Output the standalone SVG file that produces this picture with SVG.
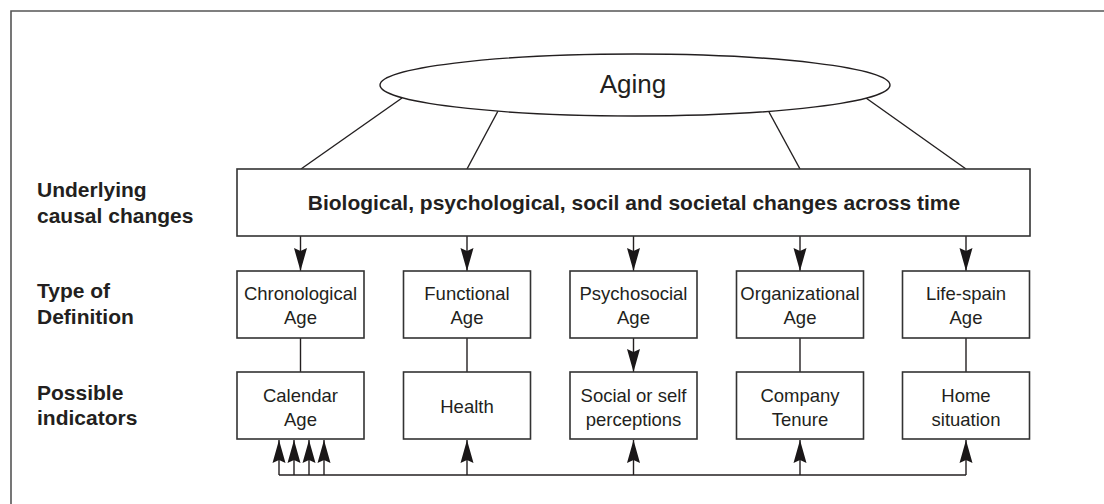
<svg xmlns="http://www.w3.org/2000/svg" width="1104" height="504" viewBox="0 0 1104 504">
<defs>
<marker id="arr" viewBox="-24 -8 25 16" refX="0" refY="0" markerWidth="25" markerHeight="16" markerUnits="userSpaceOnUse" orient="auto">
<path d="M0,0 L-23,-6.5 L-20,0 L-23,6.5 Z" fill="#1a1718"/>
</marker>
<style>
.box{fill:#fff;stroke:#333;stroke-width:1.6}
.ln{fill:none;stroke:#231f20;stroke-width:1.4}
.t{font-family:"Liberation Sans",Arial,sans-serif;font-size:18.5px;fill:#231f20;text-anchor:middle}
.b{font-family:"Liberation Sans",Arial,sans-serif;font-size:21px;font-weight:bold;fill:#231f20}
</style>
</defs>
<rect width="1104" height="504" fill="#fff"/>
<path d="M11,504 V11 H1104" fill="none" stroke="#555" stroke-width="1.6"/>

<g id="labels">
<text class="b" x="37" y="197">Underlying</text>
<text class="b" x="37" y="223">causal changes</text>
<text class="b" x="37" y="298">Type of</text>
<text class="b" x="37" y="324">Definition</text>
<text class="b" x="37" y="400">Possible</text>
<text class="b" x="37" y="425">indicators</text>
</g>

<g id="connectors">
<line class="ln" x1="402" y1="98" x2="301" y2="169"/>
<line class="ln" x1="498" y1="111" x2="467" y2="169"/>
<line class="ln" x1="769" y1="112" x2="800" y2="169"/>
<line class="ln" x1="866" y1="98" x2="966" y2="169"/>
<line class="ln" x1="300.5" y1="236" x2="300.5" y2="271" marker-end="url(#arr)"/>
<line class="ln" x1="467" y1="236" x2="467" y2="271" marker-end="url(#arr)"/>
<line class="ln" x1="633.5" y1="236" x2="633.5" y2="271" marker-end="url(#arr)"/>
<line class="ln" x1="800" y1="236" x2="800" y2="271" marker-end="url(#arr)"/>
<line class="ln" x1="966" y1="236" x2="966" y2="271" marker-end="url(#arr)"/>
<line class="ln" x1="300.5" y1="338" x2="300.5" y2="372"/>
<line class="ln" x1="467" y1="338" x2="467" y2="372"/>
<line class="ln" x1="633.5" y1="338" x2="633.5" y2="372" marker-end="url(#arr)"/>
<line class="ln" x1="800" y1="338" x2="800" y2="372"/>
<line class="ln" x1="966" y1="338" x2="966" y2="372"/>
<line class="ln" x1="279" y1="475" x2="966" y2="475"/>
<line class="ln" x1="279" y1="475" x2="279" y2="440" marker-end="url(#arr)"/>
<line class="ln" x1="294" y1="475" x2="294" y2="440" marker-end="url(#arr)"/>
<line class="ln" x1="309" y1="475" x2="309" y2="440" marker-end="url(#arr)"/>
<line class="ln" x1="324" y1="475" x2="324" y2="440" marker-end="url(#arr)"/>
<line class="ln" x1="467" y1="475" x2="467" y2="440" marker-end="url(#arr)"/>
<line class="ln" x1="633.5" y1="475" x2="633.5" y2="440" marker-end="url(#arr)"/>
<line class="ln" x1="800" y1="475" x2="800" y2="440" marker-end="url(#arr)"/>
<line class="ln" x1="966" y1="475" x2="966" y2="440" marker-end="url(#arr)"/>
</g>

<g id="aging">
<ellipse cx="635" cy="85" rx="255" ry="31" fill="#fff" stroke="#231f20" stroke-width="1.4"/>
<text class="t" x="633" y="93" style="font-size:26px">Aging</text>
</g>

<g id="changes">
<rect class="box" x="237" y="169" width="793" height="67"/>
<text class="b" x="634" y="210" text-anchor="middle">Biological, psychological, socil and societal changes across time</text>
</g>

<g id="chronological">
<rect class="box" x="237" y="271" width="127" height="67"/>
<text class="t" x="300.5" y="300">Chronological</text>
<text class="t" x="300.5" y="324">Age</text>
</g>
<g id="functional">
<rect class="box" x="403.5" y="271" width="127" height="67"/>
<text class="t" x="467" y="300">Functional</text>
<text class="t" x="467" y="324">Age</text>
</g>
<g id="psychosocial">
<rect class="box" x="570" y="271" width="127" height="67"/>
<text class="t" x="633.5" y="300">Psychosocial</text>
<text class="t" x="633.5" y="324">Age</text>
</g>
<g id="organizational">
<rect class="box" x="736.5" y="271" width="127" height="67"/>
<text class="t" x="800" y="300">Organizational</text>
<text class="t" x="800" y="324">Age</text>
</g>
<g id="lifespan">
<rect class="box" x="902.5" y="271" width="127" height="67"/>
<text class="t" x="966" y="300">Life-spain</text>
<text class="t" x="966" y="324">Age</text>
</g>

<g id="calendar">
<rect class="box" x="237" y="372" width="127" height="67"/>
<text class="t" x="300.5" y="402">Calendar</text>
<text class="t" x="300.5" y="426">Age</text>
</g>
<g id="health">
<rect class="box" x="403.5" y="372" width="127" height="67"/>
<text class="t" x="467" y="413">Health</text>
</g>
<g id="perceptions">
<rect class="box" x="570" y="372" width="127" height="67"/>
<text class="t" x="633.5" y="402">Social or self</text>
<text class="t" x="633.5" y="426">perceptions</text>
</g>
<g id="tenure">
<rect class="box" x="736.5" y="372" width="127" height="67"/>
<text class="t" x="800" y="402">Company</text>
<text class="t" x="800" y="426">Tenure</text>
</g>
<g id="home">
<rect class="box" x="902.5" y="372" width="127" height="67"/>
<text class="t" x="966" y="402">Home</text>
<text class="t" x="966" y="426">situation</text>
</g>
</svg>
